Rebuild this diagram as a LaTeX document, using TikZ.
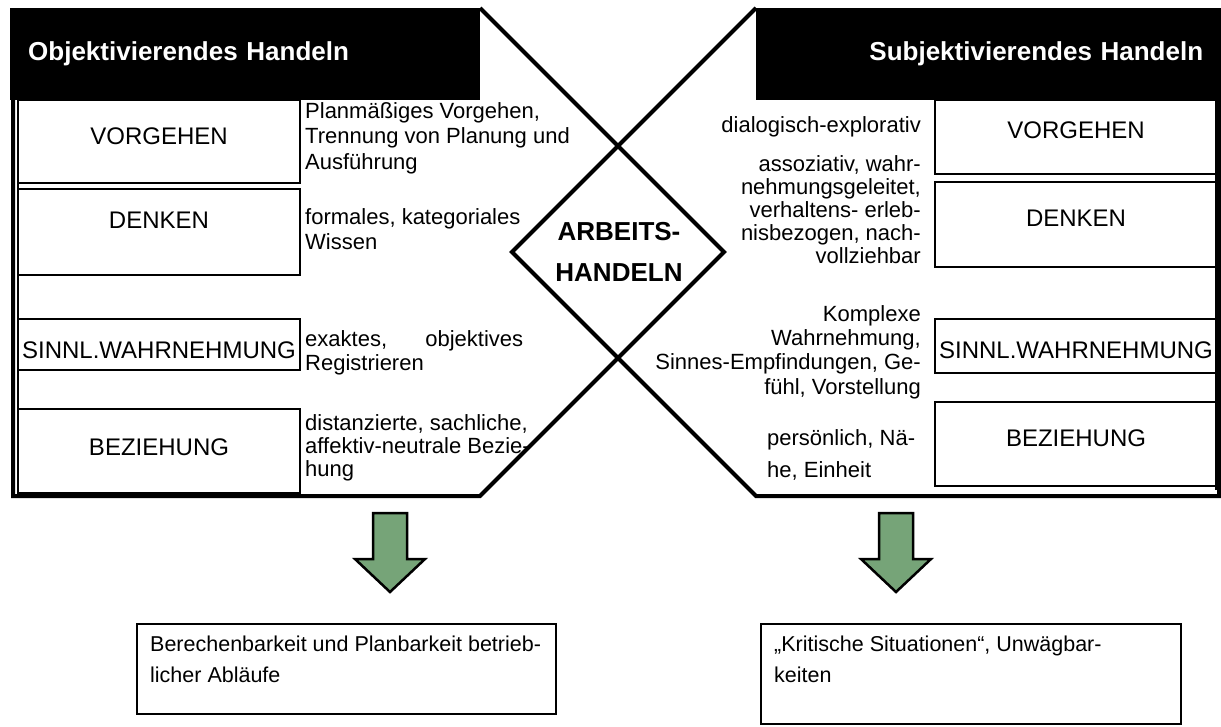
\documentclass[tikz,border=0pt]{standalone}
\usepackage{fontspec}
\setmainfont{Liberation Sans}
\usetikzlibrary{positioning}
\definecolor{pfeilgruen}{RGB}{118,164,120}

\begin{document}
\begin{tikzpicture}[x=1pt, y=-1pt,
    kopf/.style={fill=black, text=white, inner ysep=0pt, minimum height=92pt, anchor=north west, font=\bfseries\fontsize{26}{30}\selectfont},
    kasten/.style={draw, line width=1.6pt, minimum width=282pt, inner sep=0pt},
    wort/.style={font=\fontsize{24}{28}\selectfont},
    notiz/.style={inner sep=0pt, font=\fontsize{22}{25}\selectfont},
    rahmen/.style={line width=4pt, line join=miter},
    pfeil/.style={draw, line width=2.5pt, fill=pfeilgruen, line join=miter}
]
  \useasboundingbox (0,0) rectangle (1221,726);

  % 两侧标题
  \node[kopf, text width=434pt, inner xsep=18pt, align=left] (lkopf) at (10,8) {Objektivierendes Handeln};
  \node[kopf, text width=429pt, inner xsep=18pt, align=right] (rkopf) at (756,8) {Subjektivierendes Handeln};

  % 折线外框
  \coordinate (la) at (480,8);
  \coordinate (lspitze) at (724,252);
  \coordinate (lb) at (480,496);
  \coordinate (ra) at (756,8);
  \coordinate (rspitze) at (512,252);
  \coordinate (rb) at (756,496);
  \draw[rahmen] (13,100) -- (13,496) -- (lb) -- (lspitze) -- (la);
  \draw[rahmen] (1219,100) -- (1219,496) -- (rb) -- (rspitze) -- (ra);
  \draw[line width=1.2pt] (18,100) -- (18,493);
  \draw[line width=1.2pt] (1216,100) -- (1216,490);

  \node[font=\bfseries\fontsize{26}{41}\selectfont, align=center] (mitte) at (619,252) {ARBEITS-\\HANDELN};

  % 左侧方框
  \node[kasten, minimum height=83pt] (lvor) at (159,141.5) {};
  \node[kasten, minimum height=86pt] (lden) at (159,232) {};
  \node[kasten, minimum height=51pt] (lsin) at (159,344.5) {};
  \node[kasten, minimum height=84pt] (lbez) at (159,451) {};
  \node[wort] (lvor-t) at (159,136) {VORGEHEN};
  \node[wort] (lden-t) at (159,220) {DENKEN};
  \node[wort] (lsin-t) at (159,350) {SINNL.WAHRNEHMUNG};
  \node[wort] (lbez-t) at (159,447) {BEZIEHUNG};

  % 右侧方框
  \node[kasten, minimum height=74pt] (rvor) at (1076,137) {};
  \node[kasten, minimum height=85pt] (rden) at (1076,224.5) {};
  \node[kasten, minimum height=54pt] (rsin) at (1076,346) {};
  \node[kasten, minimum height=84pt] (rbez) at (1076,444) {};
  \node[wort] (rvor-t) at (1076,130) {VORGEHEN};
  \node[wort] (rden-t) at (1076,218) {DENKEN};
  \node[wort] (rsin-t) at (1076,350) {SINNL.WAHRNEHMUNG};
  \node[wort] (rbez-t) at (1076,438) {BEZIEHUNG};

  % 左侧说明 (base = 最后一行)
  \node[notiz, anchor=base west, align=left, font=\fontsize{22}{25.5}\selectfont] (lvor-n) at (305,169) {Planmäßiges Vorgehen,\\Trennung von Planung und\\Ausführung};
  \node[notiz, anchor=base west, align=left] (lden-n) at (305,249) {formales, kategoriales\\Wissen};
  \node[notiz, anchor=base west, align=left, text width=218pt, font=\fontsize{22}{24}\selectfont] (lsin-n) at (305,346) {exaktes,\hfill objektives\\Registrieren};
  \node[notiz, anchor=base west, align=left, font=\fontsize{22}{23}\selectfont] (lbez-n) at (305,476) {distanzierte, sachliche,\\affektiv-neutrale Bezie-\\hung};

  % 右侧说明
  \node[notiz, anchor=base east] (rvor-n) at (921,132) {dialogisch-explorativ};
  \node[notiz, anchor=base east, align=right, font=\fontsize{22}{23}\selectfont] (rden-n) at (921,263) {assoziativ, wahr-\\nehmungsgeleitet,\\verhaltens- erleb-\\nisbezogen, nach-\\vollziehbar};
  \node[notiz, anchor=base east, align=right, font=\fontsize{22}{24.3}\selectfont] (rsin-n) at (921,394) {Komplexe\\Wahrnehmung,\\Sinnes-Empfindungen, Ge-\\fühl, Vorstellung};
  \node[notiz, anchor=base west, align=left, font=\fontsize{22}{32}\selectfont] (rbez-n) at (767,477) {persönlich, Nä-\\he, Einheit};

  % 绿色箭头
  \draw[pfeil] (373,513) -- (407,513) -- (407,559) -- (425,559) -- (390,592) -- (355,559) -- (373,559) -- cycle;
  \draw[pfeil] (879,513) -- (913,513) -- (913,559) -- (931,559) -- (896,592) -- (861,559) -- (879,559) -- cycle;

  % 结论方框
  \node[draw, line width=1.6pt, anchor=north west, minimum width=419pt, minimum height=90pt, inner sep=0pt] (lfolge) at (136,623) {};
  \node[draw, line width=1.6pt, anchor=north west, minimum width=420pt, minimum height=100pt, inner sep=0pt] (rfolge) at (760,623) {};
  \node[notiz, anchor=base west, align=left, font=\fontsize{21.5}{31}\selectfont] (lfolge-t) at (150,682) {Berechenbarkeit und Planbarkeit betrieb-\\licher Abläufe};
  \node[notiz, anchor=base west, align=left, font=\fontsize{21.5}{31}\selectfont] (rfolge-t) at (774,682) {„Kritische Situationen“, Unwägbar-\\keiten};

\end{tikzpicture}
\end{document}
